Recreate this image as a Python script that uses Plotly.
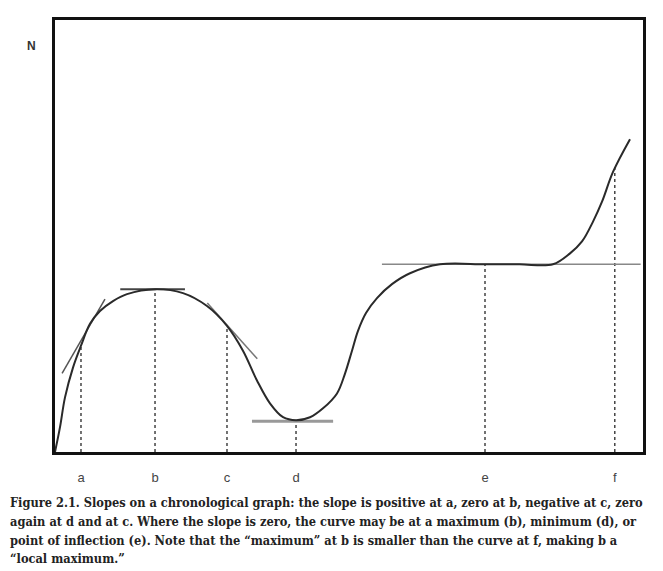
import plotly.graph_objects as go

# Curve (time t, quantity N), both on 0-100 scales
curve_t = [0, 0.85, 1.7, 3.06, 4.42, 5.95, 7.65, 9.86, 12.24, 17.01, 21.77, 25.85,
           29.25, 31.97, 34.35, 36.56, 38.78, 40.99, 43.37, 45.58, 47.96, 49.32,
           50.51, 51.53, 52.89, 54.76, 57.31, 60.37, 65.48, 73.13, 79.0, 84.69,
           87.59, 89.63, 91.5, 93.03, 94.9, 97.79]
curve_n = [0, 5.75, 12.64, 19.54, 24.6, 29.66, 32.64, 34.94, 36.55, 37.7, 36.78,
           33.79, 29.2, 23.45, 16.55, 11.26, 8.05, 7.36, 8.05, 10.11, 13.56, 18.16,
           23.45, 28.05, 32.18, 35.63, 38.85, 41.38, 43.45, 43.45, 43.45, 43.45,
           45.98, 48.74, 53.33, 57.93, 64.83, 72.41]

# Marked points
point_labels = ["a", "b", "c", "d", "e", "f"]
point_t = [4.42, 17.01, 29.25, 40.99, 73.13, 95.2]
point_n = [24.6, 37.7, 29.2, 7.36, 43.45, 66.4]

# Tangent segments (start/end t and N)
tangent_a_t = [1.2, 8.5]
tangent_a_n = [18.2, 35.4]
tangent_b_t = [11.1, 22.1]
tangent_b_n = [37.7, 37.7]
tangent_c_t = [25.9, 34.4]
tangent_c_n = [34.5, 21.6]
tangent_d_t = [33.5, 47.3]
tangent_d_n = [7.1, 7.1]
tangent_e_t = [55.6, 99.6]
tangent_e_n = [43.45, 43.45]

caption_lines = [
    "Figure 2.1. Slopes on a chronological graph: the slope is positive at a, zero at b, negative at c, zero",
    "again at d and at c. Where the slope is zero, the curve may be at a maximum (b), minimum (d), or",
    "point of inflection (e). Note that the \u201cmaximum\u201d at b is smaller than the curve at f, making b a",
    "\u201clocal maximum.\u201d",
]

fig = go.Figure()

# dotted droplines
for t, n in zip(point_t, point_n):
    fig.add_trace(go.Scatter(x=[t, t], y=[0, n], mode="lines",
                             line=dict(color="#444", width=1.5, dash="dot"),
                             hoverinfo="skip", showlegend=False))

# tangents
for tx, ty, col, w in [(tangent_a_t, tangent_a_n, "#555", 1.5),
                       (tangent_b_t, tangent_b_n, "#444", 2),
                       (tangent_c_t, tangent_c_n, "#777", 1.5),
                       (tangent_d_t, tangent_d_n, "#999", 3),
                       (tangent_e_t, tangent_e_n, "#888", 1.5)]:
    fig.add_trace(go.Scatter(x=tx, y=ty, mode="lines", line=dict(color=col, width=w),
                             hoverinfo="skip", showlegend=False))

# the curve
fig.add_trace(go.Scatter(x=curve_t, y=curve_n, mode="lines",
                         line=dict(color="#2a2a2a", width=2, shape="spline", smoothing=1.0),
                         showlegend=False))

# The page body has an 8px margin, so the figure is sized/offset to compensate.
OFF = 8
fig.update_layout(
    width=663 - OFF, height=571 - OFF,
    margin=dict(l=55 - OFF, r=20, t=17 - OFF, b=119),
    paper_bgcolor="white", plot_bgcolor="white",
    xaxis=dict(range=[0, 100], showgrid=False, zeroline=False,
               showline=True, mirror=True, linewidth=2.5, linecolor="#111",
               tickmode="array", tickvals=point_t, ticktext=point_labels, ticks="",
               ticklabelstandoff=12,
               tickfont=dict(family="Liberation Sans, Arial, sans-serif", size=13, color="#444")),
    yaxis=dict(range=[0, 100], showgrid=False, zeroline=False,
               showline=True, mirror=True, linewidth=2.5, linecolor="#111",
               showticklabels=False, ticks=""),
)

fig.add_annotation(text="N", xref="paper", yref="paper", x=-0.0408, y=0.940,
                   showarrow=False, xanchor="center", yanchor="middle",
                   font=dict(family="Liberation Sans, Arial, sans-serif", size=12, color="#333", weight="bold"))

caption_y_px = [503, 522, 541, 559]
for line, py in zip(caption_lines, caption_y_px):
    fig.add_annotation(text=line, xref="paper", yref="paper",
                       x=(OFF - 55) / 588, y=(452 - py) / 435,
                       xanchor="left", yanchor="middle", showarrow=False, align="left",
                       font=dict(family="DejaVu Serif Condensed, DejaVu Serif, serif",
                                 size=12.7, color="#222", weight="bold"))

fig.write_html("out.html")
